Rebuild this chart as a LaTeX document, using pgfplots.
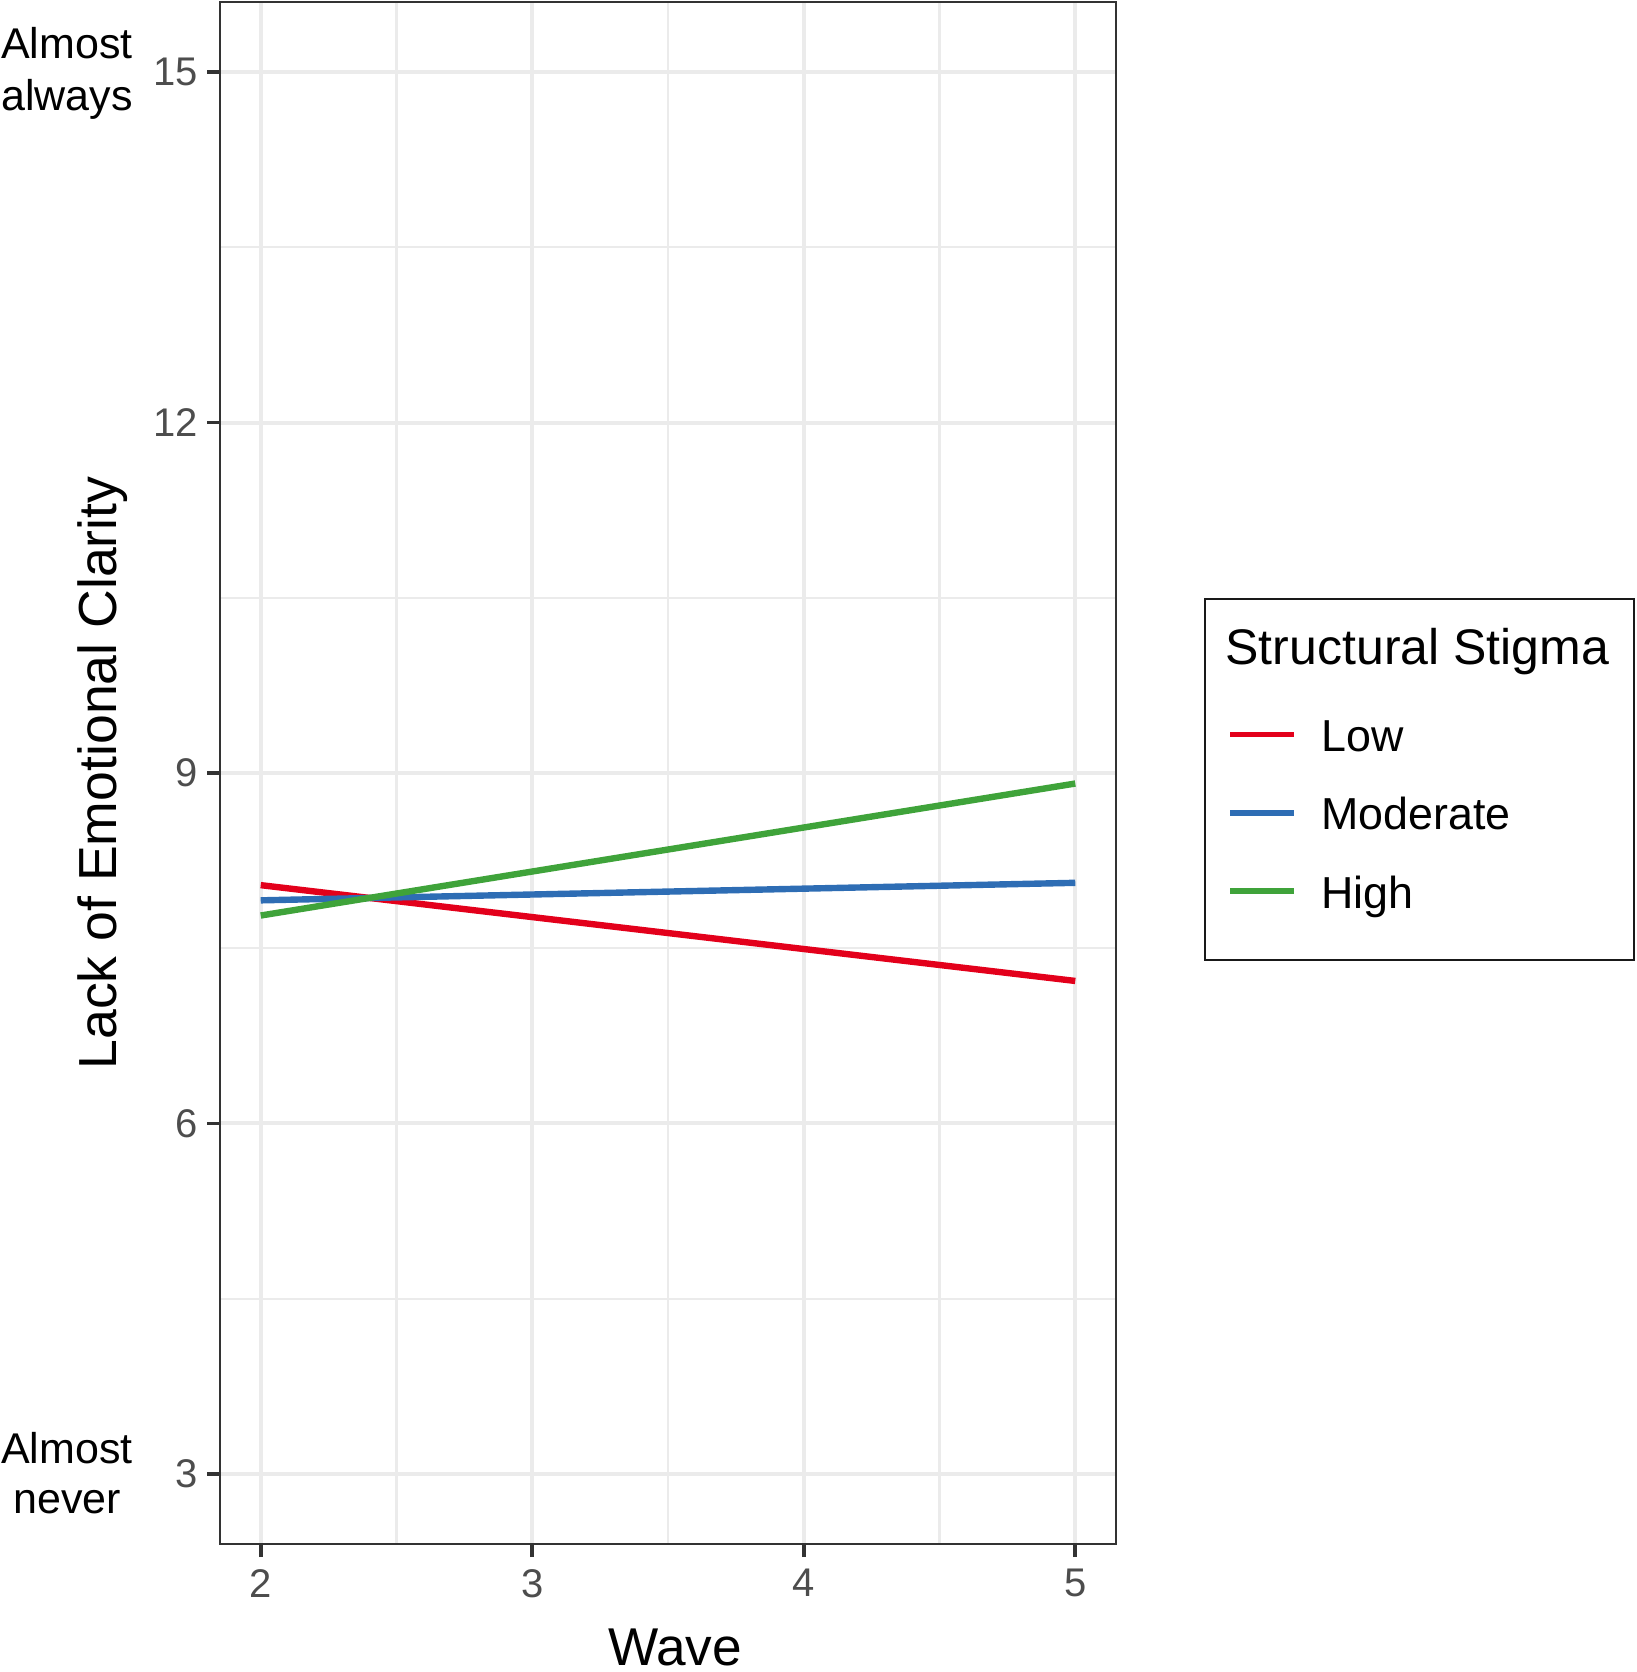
\documentclass[border=0pt]{standalone}
\usepackage{fontspec}
\setmainfont{Liberation Sans}
\usepackage{pgfplots}
\pgfplotsset{compat=1.18}
\definecolor{cLow}{HTML}{E3001B}
\definecolor{cMod}{HTML}{2E6DB4}
\definecolor{cHigh}{HTML}{3FA33A}
\definecolor{gridc}{HTML}{EBEBEB}
\definecolor{tickc}{HTML}{4D4D4D}
\definecolor{framec}{HTML}{333333}
\begin{document}
\begin{tikzpicture}
\useasboundingbox (0,0) rectangle (409.25pt,-418pt);
\begin{axis}[
  at={(55pt,-0.5pt)}, anchor=north west,
  width=224pt, height=385.5pt, scale only axis,
  xmin=1.85, xmax=5.15, ymin=2.4, ymax=15.6,
  xtick={2,3,4,5}, ytick={3,6,9,12,15},
  minor xtick={2.5,3.5,4.5}, minor ytick={4.5,7.5,10.5,13.5},
  grid=both,
  major grid style={color=gridc, line width=1pt},
  minor grid style={color=gridc, line width=0.55pt},
  minor tick length=0pt,
  tick align=outside, major tick length=3.25pt,
  xtick pos=bottom, ytick pos=left,
  tick style={color=framec, line width=0.9pt},
  axis line style={color=framec, line width=0.6pt},
  /pgf/number format/assume math mode=true,
  ticklabel style={font=\fontsize{10}{12}\selectfont, text=tickc},
  yticklabel style={xshift=1.3pt},
  xticklabel style={yshift=0.5pt},
  xlabel={Wave},
  ylabel={Lack of Emotional Clarity},
  xlabel style={font=\fontsize{13.3}{15}\selectfont, at={(axis description cs:0.508,-0.0785)}, anchor=base},
  ylabel style={font=\fontsize{13.4}{15}\selectfont, at={(axis description cs:-0.115,0.5)}, anchor=base},
  legend style={draw=none, fill=none, at={(axis description cs:1.1237,0.5352)}, anchor=north west,
    inner sep=0pt, row sep=9.6pt, column sep=6.2pt,
    nodes={inner sep=0pt, text height=8pt, text depth=2pt, font=\fontsize{11.2}{13}\selectfont}},
  legend cell align=left,
  legend image code/.code={\draw[#1, line width=1.4pt] (0pt,1.3pt) -- (15.9pt,1.3pt);},
]
\addplot[cLow, line width=1.6pt] coordinates {(2,8.04) (5,7.22)};
\addlegendentry{Low}
\addplot[cMod, line width=1.6pt] coordinates {(2,7.91) (5,8.06)};
\addlegendentry{Moderate}
\addplot[cHigh, line width=1.6pt] coordinates {(2,7.78) (5,8.91)};
\addlegendentry{High}
\end{axis}
\draw[line width=0.7pt, color=black!90] (301.25pt,-149.75pt) rectangle (408.5pt,-240pt);
\node[anchor=base west, inner sep=0pt, font=\fontsize{12.5}{14}\selectfont] at (306.2pt,-166pt) {Structural Stigma};
\node[anchor=base, inner sep=0pt, font=\fontsize{10.75}{12.75}\selectfont] at (16.75pt,-14.5pt) {Almost};
\node[anchor=base, inner sep=0pt, font=\fontsize{10.75}{12.75}\selectfont] at (16.75pt,-27.5pt) {always};
\node[anchor=base, inner sep=0pt, font=\fontsize{10.75}{12.75}\selectfont] at (16.75pt,-365.75pt) {Almost};
\node[anchor=base, inner sep=0pt, font=\fontsize{10.75}{12.75}\selectfont] at (16.75pt,-378.25pt) {never};
\end{tikzpicture}
\end{document}
